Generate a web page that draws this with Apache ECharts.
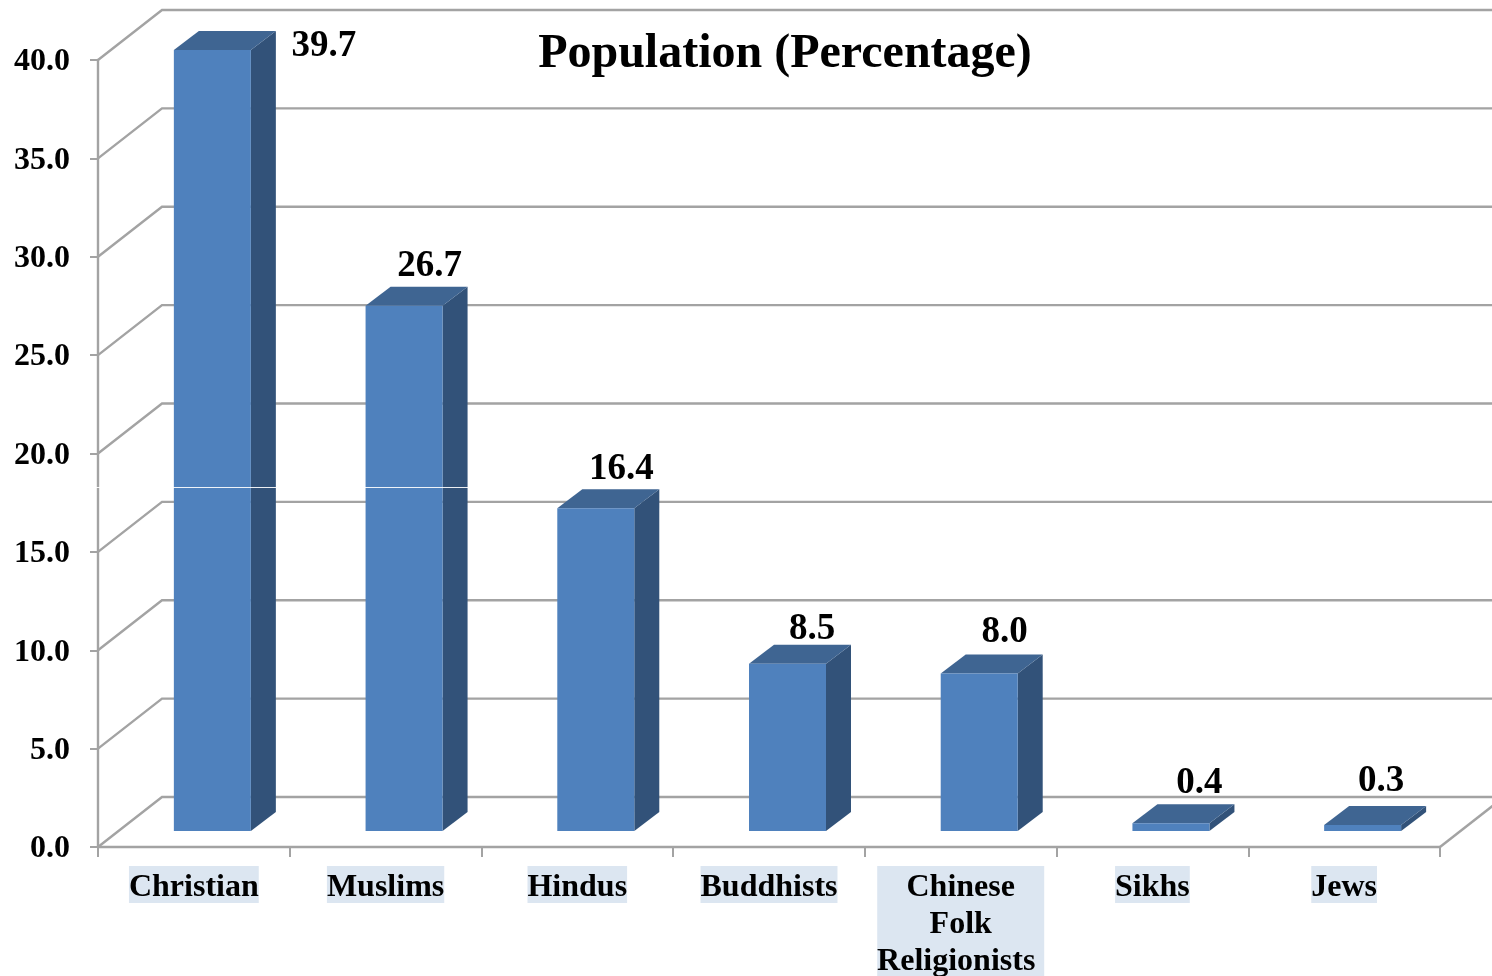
<!DOCTYPE html>
<html><head><meta charset="utf-8">
<style>html,body{margin:0;padding:0;background:#fff;overflow:hidden}#c{width:1492px;height:976px}</style>
<script src="https://cdn.jsdelivr.net/npm/echarts@6/dist/echarts.min.js"></script>
</head><body><div id="c"></div>
<script>
const categories = ['Christian','Muslims','Hindus','Buddhists','Chinese Folk Religionists','Sikhs','Jews'];
const population = [39.7,26.7,16.4,8.5,8.0,0.4,0.3];
const yTicks = [0,5,10,15,20,25,30,35,40];

// drawing style (not data)
const FONT = '"Liberation Serif"';
const GRID = '#A3A3A3';
const LW = 2.4;
const WALL_DX = 64, WALL_DY = -50;
const BAR_DX = 18.5, BAR_DY = -16, BAR_W = 77, TOP_DX = 25, TOP_DY = -19;
const labelNudge = [[130,-3],[44,-39],[44,-39],[43,-34],[44,-41],[47,-40],[37,-44]];
const catFont = {fontFamily:FONT,fontWeight:'bold',fontSize:32,color:'#000',backgroundColor:'#DCE6F1',lineHeight:37,height:31};

const chart = echarts.init(document.getElementById('c'), null, {renderer:'canvas', width:1492, height:976});
chart.setOption({
  animation:false,
  backgroundColor:'#fff',
  title:{text:'Population (Percentage)',left:780,top:50,textAlign:'center',textVerticalAlign:'middle',
    textStyle:{fontFamily:FONT,fontWeight:'bold',fontSize:48,color:'#000'}},
  grid:{left:98,top:60,width:1342,height:787,containLabel:false,outerBoundsMode:'none'},
  xAxis:{type:'category',data:categories,boundaryGap:true,
    axisLine:{lineStyle:{color:GRID,width:LW}},
    axisTick:{show:true,length:10,lineStyle:{color:GRID,width:2},alignWithLabel:false},
    splitLine:{show:false},
    axisLabel:{interval:0,margin:19,color:'#000',fontFamily:FONT,fontWeight:'bold',fontSize:32,hideOverlap:false,
      formatter:v=>v.includes(' ')?
        v.split(' ').map((w,i,a)=>i===a.length-1?`{c|${w}}`:`{b|${w}}`).join('\n'):`{a|${v}}`,
      rich:{
        a:Object.assign({},catFont,{padding:[6,0,0,0]}),
        b:Object.assign({},catFont,{padding:[6,0,0,0],width:167,align:'center'}),
        c:Object.assign({},catFont,{padding:[6,9,0,0],width:158,align:'center'})
      }}},
  yAxis:{type:'value',min:0,max:40,interval:5,
    axisLine:{show:true,lineStyle:{color:GRID,width:LW}},
    axisTick:{show:true,length:8,lineStyle:{color:GRID,width:2}},
    splitLine:{show:false},
    axisLabel:{margin:28,color:'#000',fontFamily:FONT,fontWeight:'bold',fontSize:32,
      formatter:v=>`{n|${v.toFixed(1)}}`,
      rich:{n:{fontFamily:FONT,fontWeight:'bold',fontSize:32,color:'#000',height:32,lineHeight:36,verticalAlign:'bottom'}}}},
  graphic:[{type:'line',z:100,shape:{x1:96,y1:487.5,x2:468,y2:487.5},style:{stroke:'#fff',lineWidth:1,opacity:0.9},silent:true}],
  series:[
    {type:'custom',coordinateSystem:'cartesian2d',clip:false,silent:true,z:1,
     encode:{x:0,y:1},
     data:yTicks.map(v=>[0,v]),
     renderItem(params,api){
       const p=api.coord([0,api.value(1)]), half=api.size([1,0])[0]/2;
       const x0=p[0]-half, y0=p[1];
       const xr=x0+half*2*categories.length;
       const pts=[[x0,y0],[x0+WALL_DX,y0+WALL_DY],[xr+WALL_DX,y0+WALL_DY]];
       const children=[{type:'polyline',shape:{points:pts},style:{stroke:GRID,lineWidth:LW,fill:null}}];
       if(api.value(1)===0) children.push({type:'line',shape:{x1:xr,y1:y0,x2:xr+WALL_DX,y2:y0+WALL_DY},style:{stroke:GRID,lineWidth:LW}});
       return {type:'group',children};
     }},
    {type:'custom',coordinateSystem:'cartesian2d',clip:false,silent:true,z:2,
     encode:{x:0,y:1},
     data:population.map((v,i)=>[i,v]),
     renderItem(params,api){
       const i=api.value(0), v=api.value(1);
       const top=api.coord([i,v]), base=api.coord([i,0]);
       const l=top[0]+BAR_DX-BAR_W/2, r=l+BAR_W, t=top[1]+BAR_DY, b=base[1]+BAR_DY;
       const n=labelNudge[i];
       return {type:'group',children:[
         {type:'polygon',shape:{points:[[r,t],[r+TOP_DX,t+TOP_DY],[r+TOP_DX,b+TOP_DY],[r,b]]},style:{fill:'#325279'}},
         {type:'polygon',shape:{points:[[l,t],[l+TOP_DX,t+TOP_DY],[r+TOP_DX,t+TOP_DY],[r,t]]},style:{fill:'#3F6592'}},
         {type:'rect',shape:{x:l,y:t,width:BAR_W,height:b-t},style:{fill:'#4F81BD'}},
         {type:'text',x:top[0]+n[0],y:t+n[1],style:{text:v.toFixed(1),fill:'#000',
           font:'bold 37px '+FONT,textAlign:'center',textVerticalAlign:'middle'}}
       ]};
     }}
  ]
});
</script></body></html>
